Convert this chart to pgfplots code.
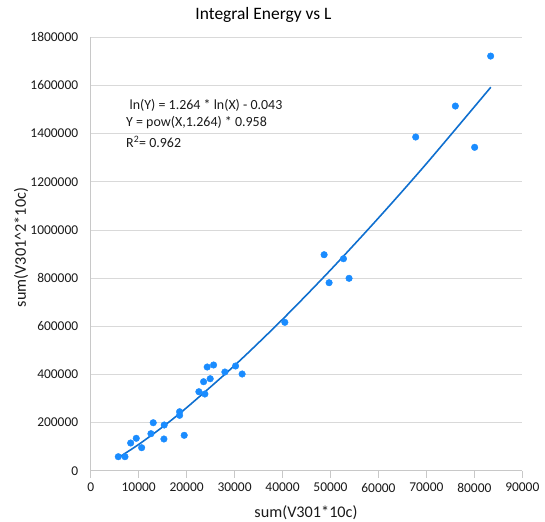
\documentclass[border=0pt]{standalone}
\usepackage{pgfplots}
\pgfplotsset{compat=1.18}
\usepackage{fontspec}
\setmainfont{Carlito}
\definecolor{ptblue}{HTML}{1A8CFF}
\definecolor{lnblue}{HTML}{0F6FCF}
\definecolor{gridgray}{HTML}{D9D9D9}
\definecolor{axgray}{HTML}{C8C8C8}
\definecolor{txt}{HTML}{1A1A1A}
\begin{document}
\begin{tikzpicture}
\useasboundingbox (0,0) rectangle (545bp,522bp);
\begin{axis}[
  at={(90.7bp,51.3bp)}, anchor=south west,
  scale only axis, width=431.6bp, height=433.4bp,
  xmin=0, xmax=90000, ymin=0, ymax=1800000,
  xtick distance=10000, ytick distance=200000,
  minor y tick num=1,
  axis x line*=bottom, axis y line*=left,
  axis line style={axgray, line width=0.8pt},
  tick align=outside,
  major tick length=7bp, minor tick length=5bp,
  xtick style={axgray, line width=0.8pt},
  ytick style={draw=none},
  minor y tick style={axgray, line width=0.8pt, xshift=5bp},
  ymajorgrids, grid style={gridgray, line width=0.8pt},
  scaled ticks=false,
  /pgf/number format/.cd, fixed, set thousands separator={}, assume math mode=true,
  /pgfplots/.cd,
  tick label style={font=\fontsize{13.5}{15}\selectfont, text=txt},
  yticklabel style={xshift=-2bp},
  xticklabel style={yshift=-2bp},
  clip=false,
]
\addplot[only marks, mark=*, mark size=3.3bp, mark options={fill=ptblue, draw=ptblue}] table {
x y
5750 58140
7146 58140
8333 115000
9500 134550
10625 95500
13040 199300
12560 153650
15270 131600
15330 189800
18540 245000
18540 230000
19500 147000
22560 328000
23810 318500
23540 369600
24920 382000
24290 430650
25625 439000
27980 409900
30210 434800
31580 401600
40480 616300
48670 897000
52710 880400
49710 780700
53875 799000
83400 1722000
76040 1514500
67770 1385800
80060 1343000
};
\addplot[lnblue, line width=1.6pt, smooth] table {
x y
5960 56658
10000 108987
15000 181952
20000 261742
30000 436958
40000 628555
50000 833440
60000 1049466
70000 1275174
83440 1592900
};
\end{axis}
\node[font=\fontsize{17.5}{20}\selectfont, text=black] at (263.5bp,507bp) {Integral Energy vs L};
\node[font=\fontsize{16.3}{19}\selectfont, text=txt] at (306bp,9bp) {sum(V301*10c)};
\node[font=\fontsize{16.3}{19}\selectfont, text=txt, rotate=90] at (21bp,274.5bp) {sum(V301\char`\^2*10c)};
\begin{scope}[every node/.style={anchor=west, font=\fontsize{14}{16}\selectfont, text=txt, inner sep=0pt}]
\node at (129.5bp,416.3bp) {ln(Y) = 1.264 * ln(X) - 0.043};
\node at (126bp,399.3bp) {Y = pow(X,1.264) * 0.958};
\node at (126bp,380.3bp) {R\textsuperscript{2}= 0.962};
\end{scope}
\end{tikzpicture}
\end{document}
